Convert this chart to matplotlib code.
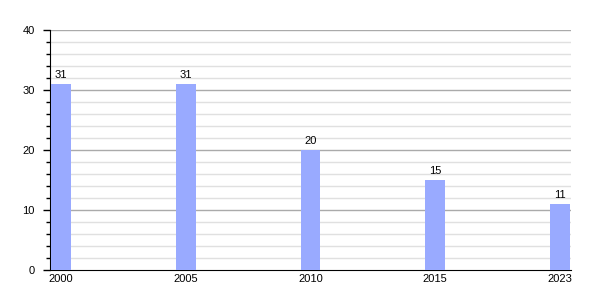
import matplotlib
matplotlib.use("Agg")
import matplotlib.pyplot as plt
import numpy as np

years = ["2000", "2005", "2010", "2015", "2023"]
values = [31, 31, 20, 15, 11]

plt.rcParams['font.family'] = ['Liberation Sans', 'DejaVu Sans']

fig = plt.figure(figsize=(6, 3), dpi=100)
ax = fig.add_axes([50/600, 30/300, 521/600, 240/300])

x = np.arange(len(years))
w = 0.16
ax.bar(x, values, width=w, align='edge', color='#99AAFF', zorder=3)
for xi, v in zip(x, values):
    ax.text(xi + w/2, v + 0.6, str(v), ha='center', va='bottom', fontsize=8, zorder=4)

ax.set_xlim(-0.008, 4.168)
ax.set_ylim(0, 40)
ax.set_xticks(x + w/2)
ax.set_xticklabels(years, fontsize=8)
ax.tick_params(axis='x', length=0, pad=3)
ax.set_yticks(np.arange(0, 41, 10))
ax.set_yticks(np.arange(0, 41, 2), minor=True)
ax.tick_params(axis='y', which='major', length=5, width=1, labelsize=8, pad=6)
ax.tick_params(axis='y', which='minor', length=3, width=1)

for yv in np.arange(2, 41, 2):
    if yv % 10 == 0:
        ax.axhline(yv, color='#aaaaaa', lw=1, zorder=1)
    else:
        ax.axhline(yv, color='#e0e0e0', lw=1, zorder=1)

for s in ['top', 'right']:
    ax.spines[s].set_visible(False)
ax.spines['left'].set_color('black')
ax.spines['bottom'].set_color('black')

fig.savefig('out.png', dpi=100)
